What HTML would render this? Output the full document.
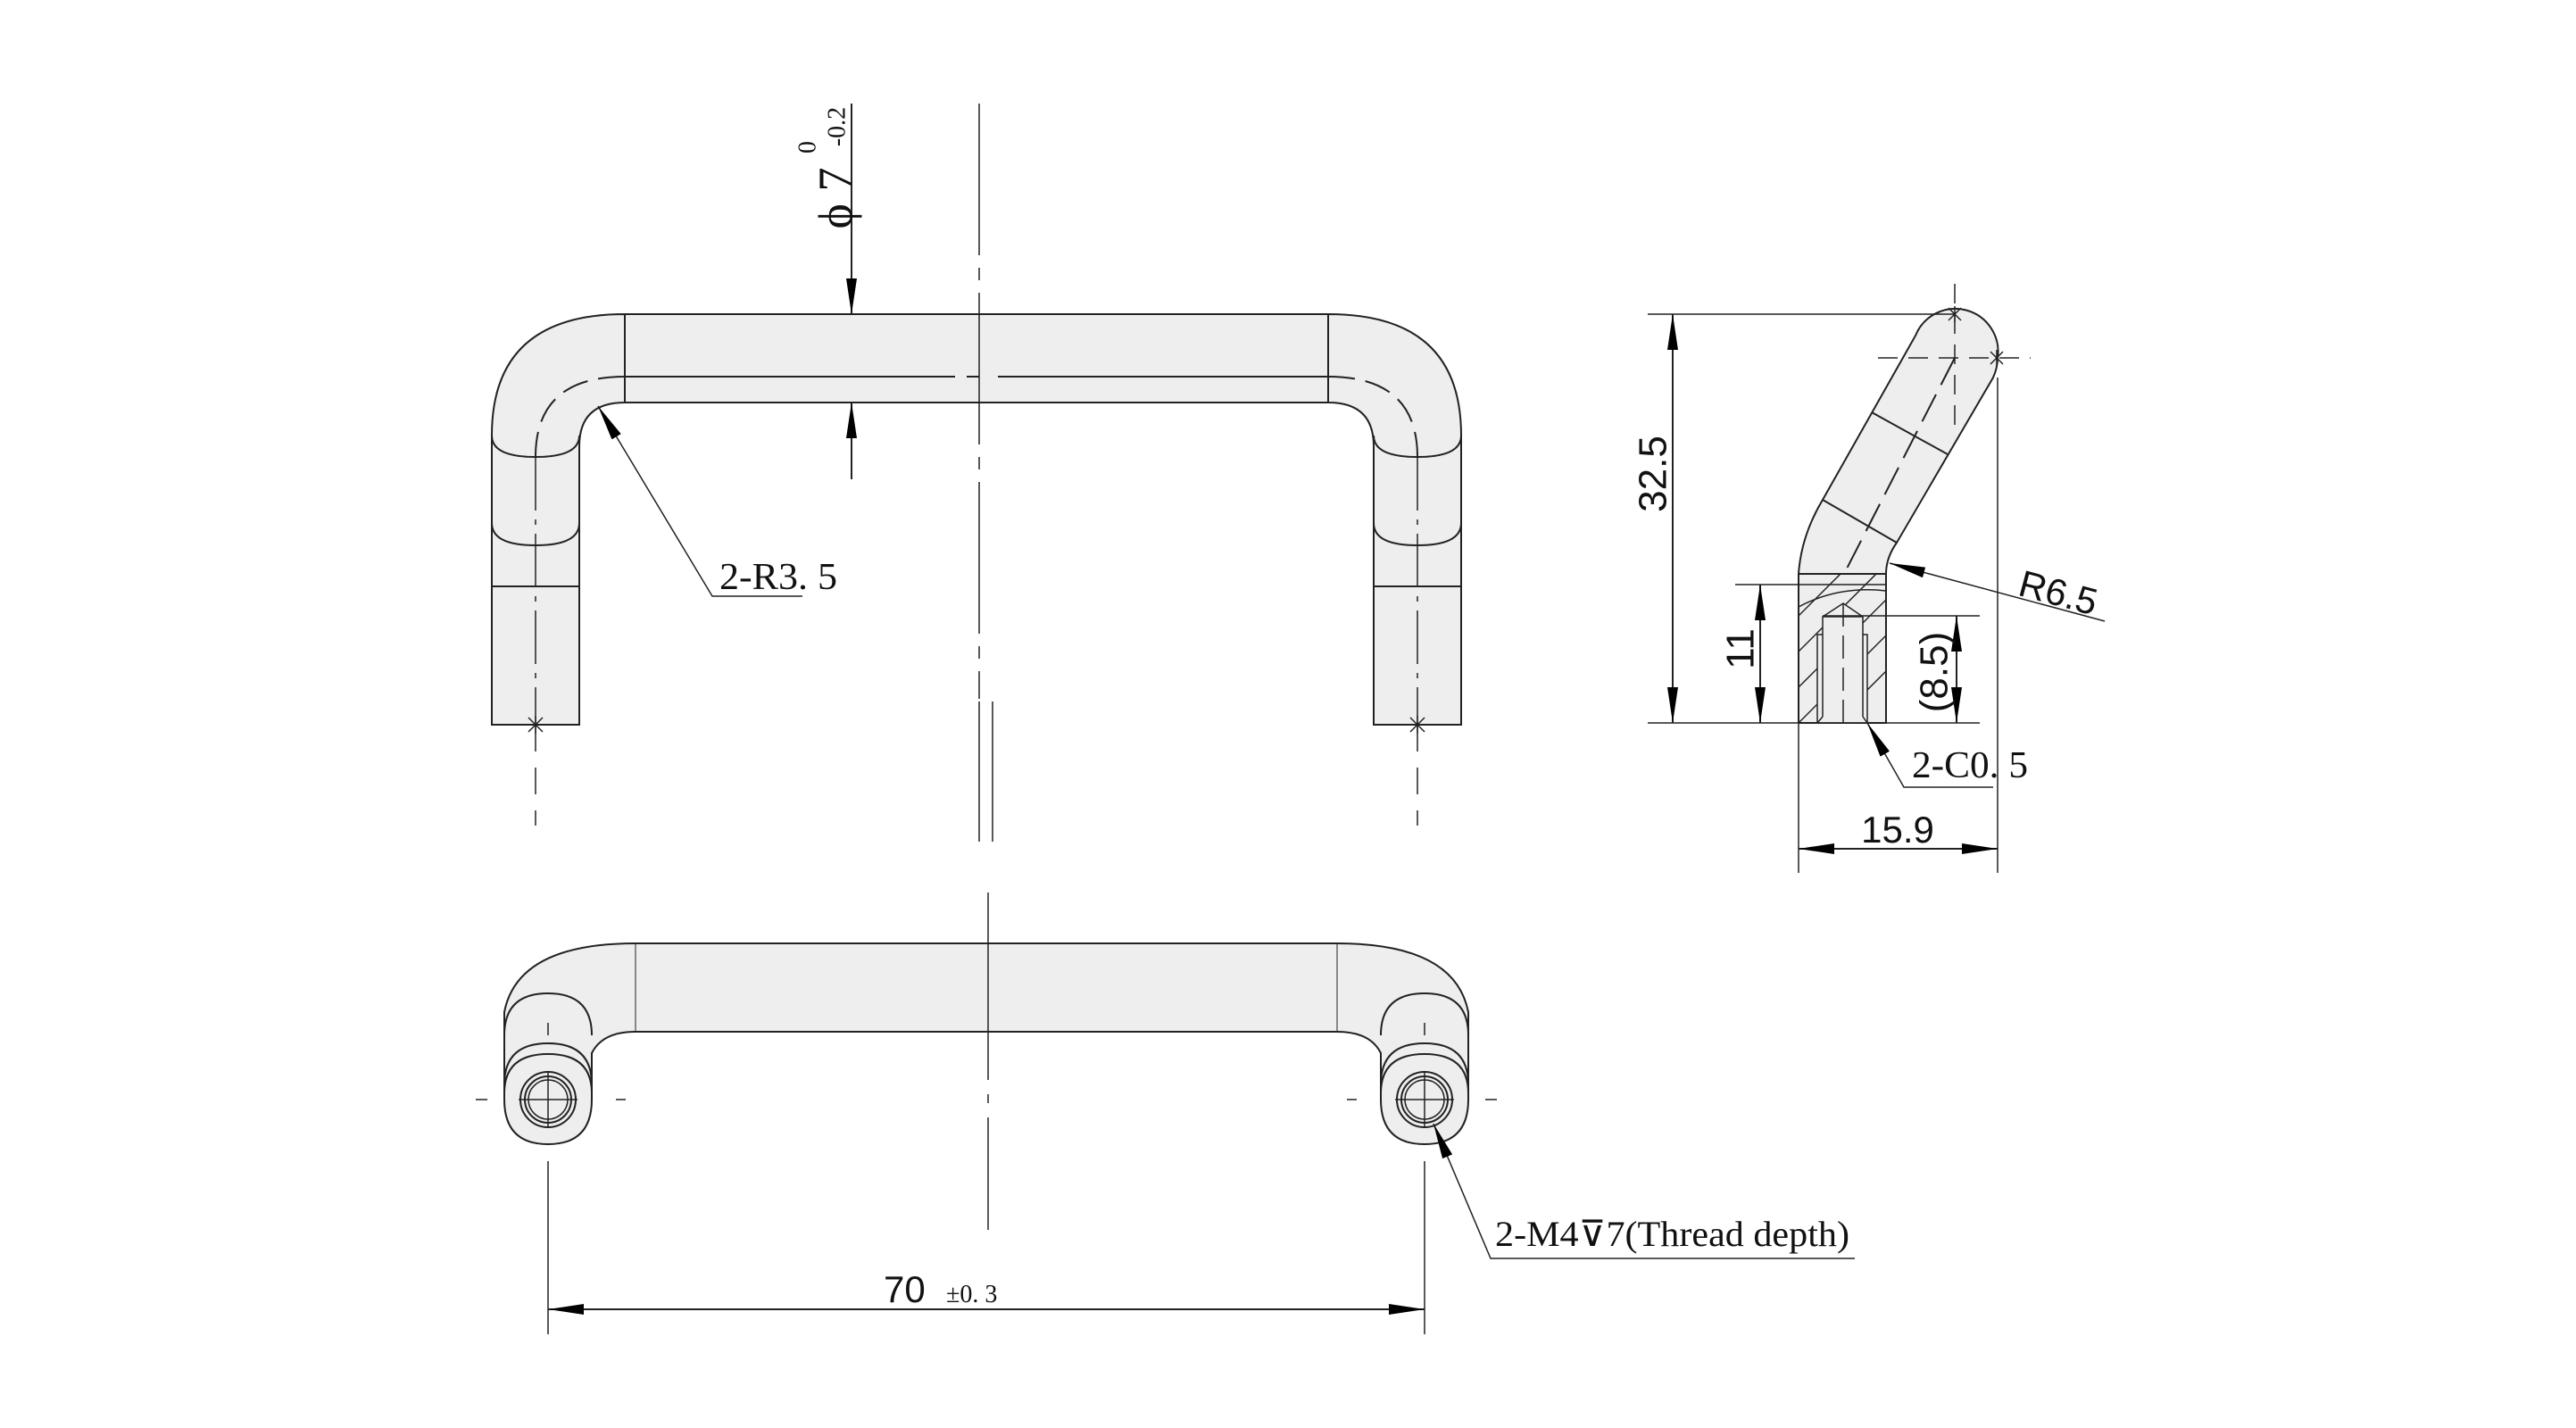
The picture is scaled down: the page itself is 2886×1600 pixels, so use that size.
<!DOCTYPE html>
<html><head><meta charset="utf-8"><style>
html,body{margin:0;padding:0;background:#fff;}
svg{display:block;}
text{fill:#111;}
.s{font-family:"Liberation Sans",sans-serif;}
.r{font-family:"Liberation Serif",serif;}
</style></head><body>
<svg width="2886" height="1600" viewBox="0 0 2886 1600" xmlns="http://www.w3.org/2000/svg">
<defs>
<marker id="a" viewBox="0 0 40 12" refX="40" refY="6" markerWidth="40" markerHeight="12" markerUnits="userSpaceOnUse" orient="auto"><path d="M0,0 L40,6 L0,12 z" fill="#000"/></marker>
<clipPath id="sec"><rect x="2015" y="643" width="98" height="167"/></clipPath>
</defs>
<g fill="none" stroke="#222" stroke-width="2">

<!-- ===== TOP VIEW ===== -->
<g id="half">
<path d="M700,352 L1100,352 L1100,451 L700,451 Q649,451 649,500 L649,812 L551,812 L551,488 Q551,352 700,352 Z" fill="#eeeeee" stroke="none"/>
<path d="M700,352 L1100,352 M700,451 L1100,451 M700,352 L700,451 M700,352 Q551,352 551,488 L551,812 L649,812 L649,500 Q649,451 700,451"/>
<path d="M551,488 Q551,512 600,512 Q649,512 649,488"/>
<path d="M551,586 Q551,611 600,611 Q649,611 649,586"/>
<path d="M551,657 L649,657"/>
<path d="M700,422 L1070,422"/>
<path d="M700,422 Q600,422 600,512" stroke-dasharray="30,12"/>
<path d="M600,512 L600,812" stroke-width="1.5" stroke-dasharray="60,10,6,10"/>
<path d="M600,812 L600,925" stroke-width="1.5" stroke-dasharray="30,18"/>
<path d="M592,804 L608,820 M608,804 L592,820 M600,802 L600,822" stroke-width="1.5"/>
</g>
<use href="#half" transform="translate(2188,0) scale(-1,1)"/>
<path d="M1083,422 L1097,422" />
<!-- main centerline -->
<path d="M1097,116 L1097,783" stroke-width="1.5" stroke-dasharray="170,14,14,14"/>
<path d="M1097,786 L1097,943 M1112,786 L1112,943" stroke-width="1.5"/>
<!-- phi7 dim -->
<path d="M954,116 L954,352" marker-end="url(#a)"/>
<path d="M954,537 L954,451" marker-end="url(#a)"/>
<!-- R3.5 leader -->
<path d="M899,668 L798,668 L670,455" marker-end="url(#a)" stroke-width="1.5"/>

<!-- ===== SIDE VIEW ===== -->
<path d="M2015,810 L2015,643 Q2018,600 2042,560 L2146,376 A48,48 0 0 1 2238,401 Q2238,412 2233,423 L2125,608 Q2113,625 2113,643 L2113,810 Z" fill="#eeeeee"/>
<path d="M2097,462 L2182,509 M2042,560 L2125,608"/>
<path d="M2190,401 L2067,641" stroke-dasharray="34,12"/>
<path d="M2190,318 L2190,486" stroke-width="1.5" stroke-dasharray="22,12"/>
<path d="M2104,401 L2275,401" stroke-width="1.5" stroke-dasharray="22,12"/>
<path d="M2183,345 L2197,359 M2197,345 L2183,359 M2190,343 L2190,361 M2230,394 L2244,408 M2244,394 L2230,408 M2237,392 L2237,410" stroke-width="1.5"/>
<g clip-path="url(#sec)" stroke-width="1.5">
<path d="M1975,810 L2145,640 M2015,810 L2185,640 M1935,810 L2105,640 M1895,810 L2065,640 M2055,810 L2225,640"/>
</g>
<path d="M2015,643 L2113,643 M2015,810 L2113,810"/>
<path d="M2015,680 Q2060,656 2113,662" stroke-width="1.5"/>
<rect x="2036" y="711" width="56" height="99" fill="#eeeeee" stroke-width="1.5"/>
<path d="M2042,803 L2042,691 L2065,676 L2087,691 L2087,803 M2042,691 L2087,691 M2036,810 L2042,803 M2092,810 L2087,803" fill="#eeeeee" stroke-width="1.5"/>
<path d="M2065,676 L2065,810" stroke-width="1.5" stroke-dasharray="26,10"/>
<path d="M1846,352 L2190,352 M1846,810 L2218,810 M1944,655 L2113,655 M2042,690 L2218,690" stroke-width="1.5"/>
<path d="M2015,810 L2015,978 M2238,423 L2238,978" stroke-width="1.5"/>
<path d="M1874,580 L1874,352" marker-end="url(#a)"/>
<path d="M1874,580 L1874,810" marker-end="url(#a)"/>
<path d="M1972,730 L1972,655" marker-end="url(#a)"/>
<path d="M1972,730 L1972,810" marker-end="url(#a)"/>
<path d="M2192,750 L2192,690" marker-end="url(#a)"/>
<path d="M2192,750 L2192,810" marker-end="url(#a)"/>
<path d="M2126,951 L2015,951" marker-end="url(#a)"/>
<path d="M2126,951 L2238,951" marker-end="url(#a)"/>
<path d="M2358,696 L2117,631" marker-end="url(#a)" stroke-width="1.5"/>
<path d="M2233,882 L2133,882 L2092,810" marker-end="url(#a)" stroke-width="1.5"/>

<!-- ===== BOTTOM VIEW ===== -->
<g id="bh">
<path d="M712,1057 L1110,1057 L1110,1156 L712,1156 Q675,1156 663,1180 L663,1232 Q663,1282 614,1282 Q565,1282 565,1232 L565,1134 Q580,1057 712,1057 Z" fill="#eeeeee" stroke="none"/>
<path d="M1110,1057 L712,1057 Q580,1057 565,1134 L565,1232 Q565,1282 614,1282 Q663,1282 663,1232 L663,1180 Q675,1156 712,1156 L1110,1156"/>
<path d="M712,1057 L712,1156" stroke-width="1"/>
<path d="M565,1160 Q565,1113 614,1113 Q663,1113 663,1160"/>
<path d="M565,1215 Q565,1169 614,1169 Q663,1169 663,1215"/>
<path d="M565,1225 Q565,1181 614,1181 Q663,1181 663,1225"/>
<circle cx="614" cy="1232" r="31"/>
<circle cx="614" cy="1232" r="26"/>
<circle cx="614" cy="1232" r="22" stroke-width="1.5"/>
<path d="M581,1232 L647,1232 M614,1200 L614,1264 M614,1146 L614,1160 M533,1232 L546,1232 M690,1232 L701,1232" stroke-width="1.5"/>
</g>
<use href="#bh" transform="translate(2210,0) scale(-1,1)"/>
<path d="M1107,1000 L1107,1378" stroke-width="1.5" stroke-dasharray="210,16,10,16"/>
<path d="M614,1301 L614,1495 M1596,1301 L1596,1495" stroke-width="1.5"/>
<path d="M1107,1467 L614,1467" marker-end="url(#a)"/>
<path d="M1107,1467 L1596,1467" marker-end="url(#a)"/>
<path d="M2078,1410 L1670,1410 L1606,1259" marker-end="url(#a)" stroke-width="1.5"/>
</g>

<!-- ===== TEXT ===== -->
<text class="r" font-size="54" transform="translate(936,222) rotate(-90)" text-anchor="middle" dominant-baseline="central">ϕ 7</text>
<text class="r" font-size="28" transform="translate(905,165) rotate(-90)" text-anchor="middle" dominant-baseline="central">0</text>
<text class="r" font-size="28" transform="translate(938,142) rotate(-90)" text-anchor="middle" dominant-baseline="central">-0.2</text>
<text class="r" font-size="42" x="806" y="660" textLength="132" lengthAdjust="spacingAndGlyphs">2-R3. 5</text>

<text class="s" font-size="44" transform="translate(1852,531) rotate(-90)" text-anchor="middle" dominant-baseline="central">32.5</text>
<text class="s" font-size="44" transform="translate(1950,727) rotate(-90)" text-anchor="middle" dominant-baseline="central">11</text>
<text class="s" font-size="44" transform="translate(2167,753) rotate(-90)" text-anchor="middle" dominant-baseline="central">(8.5)</text>
<text class="s" font-size="42" transform="translate(2306,664) rotate(15)" text-anchor="middle" dominant-baseline="central">R6.5</text>
<text class="r" font-size="42" x="2142" y="871" textLength="130" lengthAdjust="spacingAndGlyphs">2-C0. 5</text>
<text class="s" font-size="42" x="2126" y="944" text-anchor="middle">15.9</text>

<text class="s" font-size="42" x="990" y="1459">70</text>
<text class="r" font-size="28" x="1060" y="1459">±0. 3</text>
<text class="r" font-size="40" x="1675" y="1396" textLength="397" lengthAdjust="spacingAndGlyphs">2-M4⊽7(Thread depth)</text>
</svg>
</body></html>
